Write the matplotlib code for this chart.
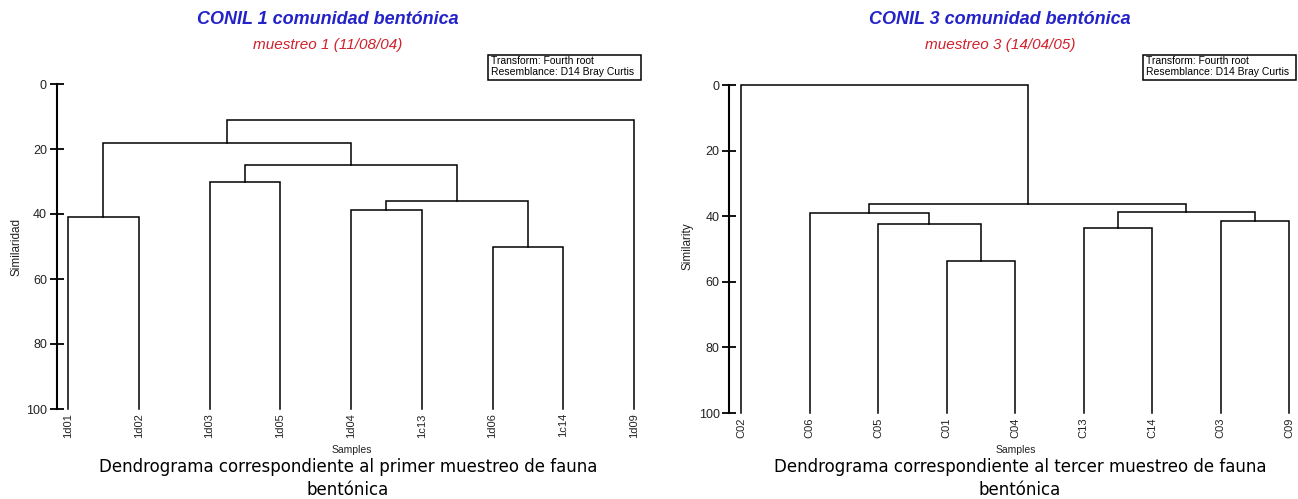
import numpy as np
import matplotlib
matplotlib.use("Agg")
import matplotlib.pyplot as plt
from matplotlib.patches import Rectangle

W, H = 1298, 499

# muestreo 1: hojas y uniones (tipo linkage: hojas 0..8, clusters 9..)
labels_1 = ["1d01", "1d02", "1d03", "1d05", "1d04", "1c13", "1d06", "1c14", "1d09"]
join_a_1 = [6, 4, 0, 2, 10, 12, 11, 15]
join_b_1 = [7, 5, 1, 3, 9, 13, 14, 8]
join_h_1 = [50.0, 38.7, 40.9, 30.0, 35.9, 24.8, 18.3, 11.0]

# muestreo 3
labels_3 = ["C02", "C06", "C05", "C01", "C04", "C13", "C14", "C03", "C09"]
join_a_3 = [3, 2, 1, 5, 7, 12, 11, 0]
join_b_3 = [4, 9, 10, 6, 8, 13, 14, 15]
join_h_3 = [53.8, 42.4, 38.9, 43.7, 41.6, 38.6, 36.2, 0.0]

yticks = [0, 20, 40, 60, 80, 100]

BLUE = "#2323c8"
RED = "#d0202c"
SANS = ["Liberation Sans", "DejaVu Sans"]
NARROW = ["Liberation Sans Narrow", "Liberation Sans", "DejaVu Sans"]


def px_axes(fig, left, right, top, bottom):
    return fig.add_axes([left / W, 1 - bottom / H, (right - left) / W, (bottom - top) / H])


def dendro(ax, labels, ja, jb, jh):
    xs = list(range(len(labels)))
    hs = [100.0] * len(labels)
    for a, b, h in zip(ja, jb, jh):
        xa, xb = xs[a], xs[b]
        ax.plot([xa, xa, xb, xb], [hs[a], h, h, hs[b]], color="black", lw=1.1,
                solid_joinstyle="miter", clip_on=False)
        xs.append((xa + xb) / 2)
        hs.append(h)
    ax.set_xticks(range(len(labels)))
    ax.set_xticklabels(labels, rotation=90, fontsize=8, family=SANS, color="#222222")
    ax.tick_params(axis="x", length=0, pad=3)
    ax.set_yticks(yticks)
    ax.set_yticklabels([str(t) for t in yticks], fontsize=9, family=SANS, color="#222222")
    ax.tick_params(axis="y", direction="inout", length=10, width=1.3, pad=2)
    ax.set_ylim(100, 0)
    for s in ["top", "right", "bottom"]:
        ax.spines[s].set_visible(False)
    ax.spines["left"].set_linewidth(1.5)
    ax.patch.set_visible(False)


def info_box(fig, x0, y0):
    fig.patches.append(Rectangle((x0 / W, 1 - (y0 + 25) / H), 153 / W, 25 / H,
                                 transform=fig.transFigure, fill=False,
                                 edgecolor="black", lw=1.1))
    fig.text((x0 + 3) / W, 1 - (y0 + 6) / H, "Transform: Fourth root",
             fontsize=7.5, family=NARROW, va="center", ha="left")
    fig.text((x0 + 3) / W, 1 - (y0 + 17) / H, "Resemblance: D14 Bray Curtis",
             fontsize=7.5, family=NARROW, va="center", ha="left")


fig = plt.figure(figsize=(W / 100, H / 100), dpi=100)

# panel izquierdo
ax1 = px_axes(fig, 68 - 0.16 * 70.75, 68 + 8.2 * 70.75, 84, 409)
ax1.set_xlim(-0.16, 8.2)
dendro(ax1, labels_1, join_a_1, join_b_1, join_h_1)

# panel derecho (algo comprimido para que C09 quepa)
step3 = 68.5
ax3 = px_axes(fig, 741 - 0.17 * step3, 741 + 8.12 * step3, 85, 413)
ax3.set_xlim(-0.17, 8.12)
dendro(ax3, labels_3, join_a_3, join_b_3, join_h_3)

for cx, num, fecha, sx, cap in [
        (328, "1", "muestreo 1 (11/08/04)", 352, "primer"),
        (1000, "3", "muestreo 3 (14/04/05)", 1016, "tercer")]:
    fig.text(cx / W, 1 - 20 / H, f"CONIL {num} comunidad bentónica", color=BLUE,
             fontsize=13, fontweight="bold", fontstyle="italic", family=SANS,
             ha="center", va="center")
    fig.text(cx / W, 1 - 45 / H, fecha, color=RED, fontsize=11,
             fontstyle="italic", family=SANS, ha="center", va="center")
    fig.text(sx / W, 1 - 450 / H, "Samples", fontsize=7.5, family=SANS,
             ha="center", va="center", color="#222222")
    fig.text((cx + 20) / W, 1 - 467 / H,
             f"Dendrograma correspondiente al {cap} muestreo de fauna",
             fontsize=12, family="DejaVu Sans", ha="center", va="center")
    fig.text((cx + 20) / W, 1 - 490 / H, "bentónica",
             fontsize=12, family="DejaVu Sans", ha="center", va="center")

fig.text(16 / W, 1 - 247 / H, "Similaridad", rotation=90, fontsize=8.5,
         family=SANS, ha="center", va="center", color="#222222")
fig.text(688 / W, 1 - 246 / H, "Similarity", rotation=90, fontsize=8.5,
         family=SANS, ha="center", va="center", color="#222222")

info_box(fig, 488, 55)
info_box(fig, 1143, 55)

fig.savefig("out.png", dpi=100)
